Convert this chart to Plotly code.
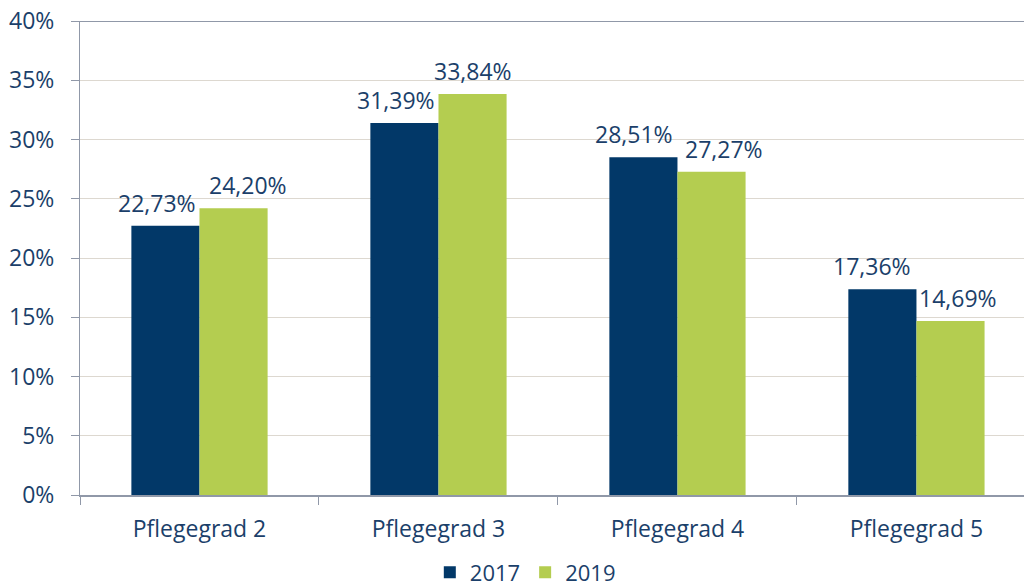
import plotly.graph_objects as go

categories = ["Pflegegrad 2", "Pflegegrad 3", "Pflegegrad 4", "Pflegegrad 5"]
values_2017 = [22.73, 31.39, 28.51, 17.36]
values_2019 = [24.20, 33.84, 27.27, 14.69]
series_names = ["2017", "2019"]
y_ticks = [0, 5, 10, 15, 20, 25, 30, 35, 40]
y_tick_labels = ["0%", "5%", "10%", "15%", "20%", "25%", "30%", "35%", "40%"]

C_2017 = "#023868"
C_2019 = "#B4CD50"
TEXT = "#1B3F6A"
AX = "#9098A8"
FONT = "Open Sans"
FS = 23
BARGAP = 0.43
# horizontal nudges (px) of the data labels, to keep neighbours apart
label_nudge = [[-8, -8, -9, -10], [14, 0, 12, 7]]

def fmt(v):
    return f"{v:.2f}".replace(".", ",") + "%"

fig = go.Figure()
for name, vals, col in [(series_names[0], values_2017, C_2017), (series_names[1], values_2019, C_2019)]:
    fig.add_trace(go.Bar(
        x=categories, y=vals, name=name, marker=dict(color=col, line=dict(width=0)),
    ))

half = (1 - BARGAP) / 4
for k, vals in enumerate([values_2017, values_2019]):
    off = -half if k == 0 else half
    for i, v in enumerate(vals):
        fig.add_annotation(x=i + off, y=v, xref="x", yref="y", text=fmt(v),
                           showarrow=False, yanchor="bottom", xanchor="center",
                           yshift=5, xshift=label_nudge[k][i],
                           font=dict(family=FONT, size=FS, color=TEXT))

fig.update_layout(
    width=1024, height=587,
    margin=dict(l=80, r=0, t=21, b=92),
    paper_bgcolor="white", plot_bgcolor="white",
    barmode="group", bargap=BARGAP, bargroupgap=0,
    font=dict(family=FONT, size=FS, color=TEXT),
    showlegend=True,
    legend=dict(orientation="h", xref="container", yref="container",
                x=0.513, xanchor="center", y=0.025, yanchor="middle",
                font=dict(family=FONT, size=22, color=TEXT), itemwidth=30,
                tracegroupgap=0),
    xaxis=dict(range=[-0.5, 3.45], showline=True, linecolor=AX, linewidth=2,
               ticks="outside", tickson="boundaries", ticklen=8, tickcolor=AX,
               showgrid=False, automargin=False, ticklabelstandoff=12,
               tickfont=dict(family=FONT, size=FS, color=TEXT)),
    yaxis=dict(range=[0, 40], tickvals=y_ticks, ticktext=y_tick_labels,
               showline=True, linecolor=AX, linewidth=1,
               ticks="outside", ticklen=8, tickcolor=AX,
               showgrid=True, gridcolor="#DDD8D0", gridwidth=1,
               zeroline=False, automargin=False, ticklabelstandoff=12,
               ticklabeloverflow="allow",
               tickfont=dict(family=FONT, size=FS, color=TEXT)),
)
fig.add_shape(type="line", xref="paper", yref="y", x0=0, x1=1, y0=40, y1=40,
              line=dict(color=AX, width=2))

fig.write_html("out.html", config={"displayModeBar": False},
               post_script="document.body.style.margin='0';document.body.style.overflow='hidden';")
